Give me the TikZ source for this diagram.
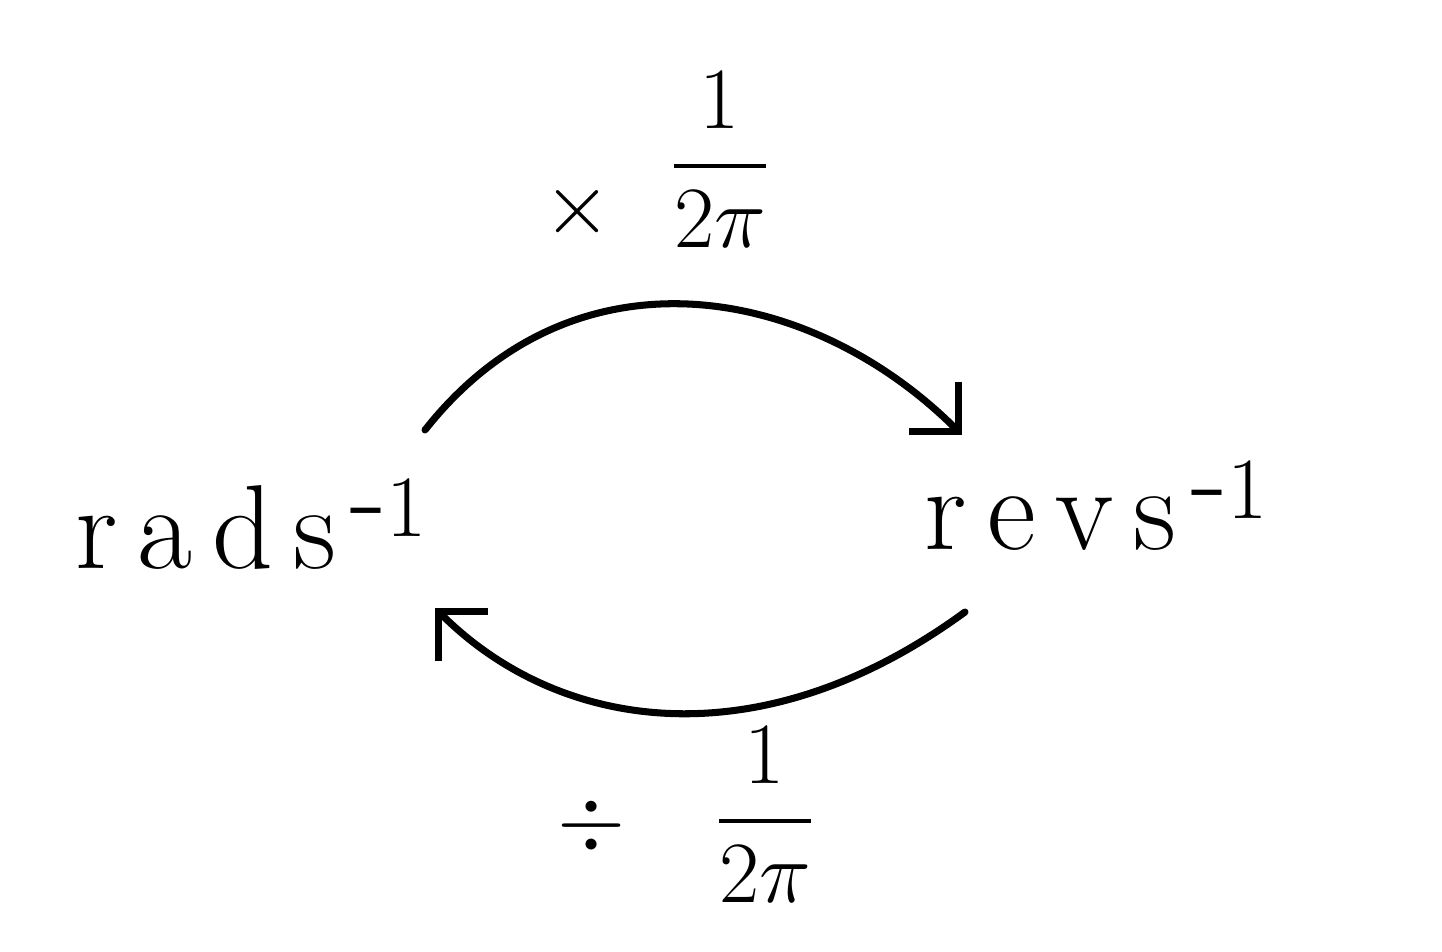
\documentclass[tikz,border=0pt]{standalone}
\usepackage{amsmath}
\usetikzlibrary{arrows.meta}
\begin{document}
\begin{tikzpicture}[x=0.01cm,y=-0.01cm,
  unit/.style={font=\fontsize{34}{40}\selectfont, inner sep=0pt, anchor=base},
  frac/.style={font=\fontsize{27}{32}\selectfont, inner sep=0pt},
  conv/.style={line width=2pt, line cap=round, -{Straight Barb[length=10pt,width=20pt,line width=2pt]}}]
\useasboundingbox (0,0) rectangle (1442,952);
\node[unit] (rad) at (252,568) {r\,a\,d\,s$^{\,\mbox{-}1}$};
\node[unit] (rev) at (1097,550) {r\,e\,v\,s$^{\,\mbox{-}1}$};
\node[frac] (times) at (578,212) {$\times$};
\node[frac] (tfrac) at (720,160) {$\dfrac{1}{2\pi}$};
\node[frac] (div) at (592,826) {$\div$};
\node[frac] (bfrac) at (765,815) {$\dfrac{1}{2\pi}$};
\coordinate (a1) at (425,430);
\coordinate (a2) at (962,435);
\coordinate (b1) at (965,612);
\coordinate (b2) at (435,608);
\draw[conv] (a1) .. controls (575,240) and (812,285) .. (a2);
\draw[conv] (b1) .. controls (760,762) and (559,732) .. (b2);
\end{tikzpicture}
\end{document}
